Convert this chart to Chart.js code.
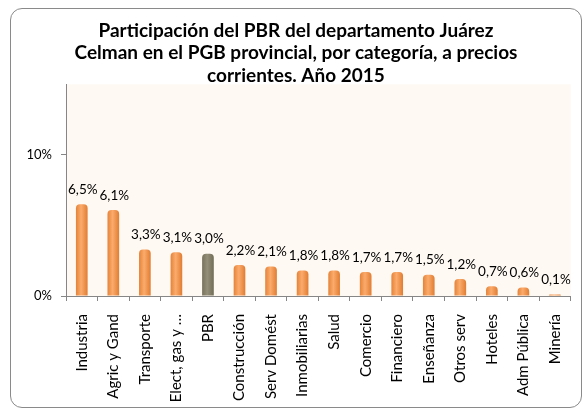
<!DOCTYPE html>
<html>
<head>
<meta charset="utf-8">
<script src="https://cdn.jsdelivr.net/npm/chart.js@4"></script>
<style>
  body { margin: 0; background: #fff; }
  #frame {
    position: absolute; left: 10px; top: 8px; width: 572px; height: 400px;
    border: 1px solid #8a8a8a; border-radius: 12px; box-sizing: border-box;
  }
  #wrap { position: absolute; left: 0; top: 0; width: 586px; height: 416px; }
</style>
</head>
<body>
<div id="frame"></div>
<div id="wrap"><canvas id="pbrChart" width="586" height="416"></canvas></div>
<script>
// Categorías y valores (%)
const categories = [
    'Industria', 'Agric y Gand', 'Transporte', 'Elect, gas y …', 'PBR',
    'Construcción', 'Serv Domést', 'Inmobiliarias', 'Salud', 'Comercio',
    'Financiero', 'Enseñanza', 'Otros serv', 'Hoteles', 'Adm Pública', 'Minería'
];
const shares = [6.5, 6.1, 3.3, 3.1, 3.0, 2.2, 2.1, 1.8, 1.8, 1.7, 1.7, 1.5, 1.2, 0.7, 0.6, 0.1];
const yTicks = [0, 10];

const FONT = 'Lato, "Liberation Sans", sans-serif';

// cylinder-like shading for each bar
function barFill(ctx) {
    const chart = ctx.chart;
    const xs = chart.scales.x;
    if (!xs || !chart.chartArea) return '#F79646';
    const x = xs.getPixelForValue(ctx.dataIndex);
    const half = 7;
    const g = chart.ctx.createLinearGradient(x - half, 0, x + half, 0);
    if (categories[ctx.dataIndex] === 'PBR') {
        g.addColorStop(0, '#6f6b56');
        g.addColorStop(0.45, '#948f78');
        g.addColorStop(1, '#6a6651');
    } else {
        g.addColorStop(0, '#e07a2e');
        g.addColorStop(0.45, '#fbab6c');
        g.addColorStop(1, '#dc7428');
    }
    return g;
}

const plotBg = {
    id: 'plotBg',
    beforeDraw(chart) {
        const { ctx, chartArea: a } = chart;
        ctx.save();
        ctx.fillStyle = '#fef9f2';
        ctx.fillRect(a.left, a.top, a.right - a.left, a.bottom - a.top);
        ctx.restore();
    }
};

const valueLabels = {
    id: 'valueLabels',
    afterDatasetsDraw(chart) {
        const { ctx } = chart;
        const meta = chart.getDatasetMeta(0);
        ctx.save();
        ctx.font = '13.5px ' + FONT;
        ctx.fillStyle = '#000';
        ctx.textAlign = 'center';
        ctx.textBaseline = 'bottom';
        meta.data.forEach((bar, i) => {
            const txt = shares[i].toFixed(1).replace('.', ',') + '%';
            ctx.fillText(txt, bar.x + 1, bar.y - 8);
        });
        ctx.restore();
    }
};

const pbrCtx = document.getElementById('pbrChart').getContext('2d');
new Chart(pbrCtx, {
    type: 'bar',
    data: {
        labels: categories,
        datasets: [{
            data: shares,
            backgroundColor: barFill,
            borderWidth: 0,
            borderRadius: { topLeft: 4, topRight: 4 },
            borderSkipped: 'bottom',
            barPercentage: 0.37,
            categoryPercentage: 1
        }]
    },
    options: {
        responsive: false,
        animation: false,
        layout: { padding: { top: 19, left: 8, right: 2, bottom: 0 } },
        scales: {
            x: {
                grid: { drawOnChartArea: false, tickLength: 5, color: '#868686' },
                border: { color: '#868686' },
                ticks: {
                    minRotation: 90, maxRotation: 90, autoSkip: false,
                    color: '#000', font: { family: FONT, size: 15 }, padding: 13
                },
                afterFit(scale) { scale.height = 120; }
            },
            y: {
                min: 0, max: 15,
                grid: { drawOnChartArea: false, tickLength: 5, color: '#868686' },
                border: { color: '#868686' },
                afterBuildTicks(scale) { scale.ticks = yTicks.map(v => ({ value: v })); },
                ticks: {
                    color: '#000', font: { family: FONT, size: 13 }, padding: 9,
                    callback: v => v + '%'
                },
                afterFit(scale) { scale.width = 58; }
            }
        },
        plugins: {
            legend: { display: false },
            tooltip: { enabled: false },
            title: {
                display: true,
                text: [
                    'Participación del PBR del departamento Juárez',
                    'Celman en el PGB provincial, por categoría, a precios',
                    'corrientes. Año 2015'
                ],
                color: '#000',
                font: { family: FONT, size: 19, weight: 'bold', lineHeight: 1.2 },
                padding: { top: 0, bottom: -3 }
            }
        }
    },
    plugins: [plotBg, valueLabels]
});
</script>
</body>
</html>
